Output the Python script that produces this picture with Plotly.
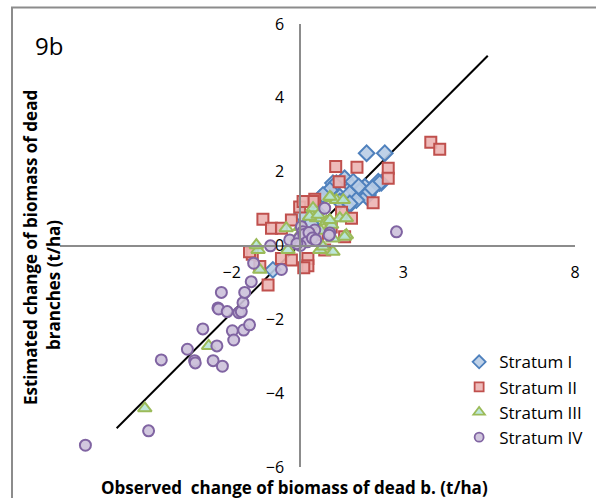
import plotly.graph_objects as go

# ---------------- data ----------------
s1_x = [1.93, 2.46, 2.36, 0.95, 1.39, 1.88, 2.27, 0.76, 1.15, 1.59, 1.97, 0.57, 1.05, 1.29, 1.54, 2.31,
        1.73, 1.93, 0.86, 0.66, 1.44, 1.44, 1.15, 2.02, -0.80, 1.63, 1.44, 0.03, 0.50, 0.30, 1.70, 2.10]
s1_y = [2.50, 2.50, 1.70, 1.69, 1.69, 1.59, 1.73, 1.41, 1.32, 1.46, 1.37, 1.28, 1.69, 1.82, 1.73, 1.69,
        1.46, 1.32, 1.50, 1.37, 1.41, 1.10, 1.19, 1.46, -0.66, 1.23, 1.14, 0.83, 0.90, 0.60, 1.60, 1.55]

s2_x = [3.80, 4.06, 2.56, 2.56, 2.12, 1.03, 1.65, 1.13, 0.42, -0.02, -1.09, -0.84, -0.55, -0.26, -1.40,
        0.22, 0.22, 1.49, 0.37, 0.08, -1.48, -1.18, -0.55, -0.26, -0.94, 0.71, 1.29, 0.10, 0.50, 0.90, 1.20]
s2_y = [2.80, 2.61, 2.09, 1.82, 1.16, 2.14, 2.12, 1.73, 1.25, 1.04, 0.71, 0.47, 0.47, 0.69, -0.24,
        -0.35, -0.55, 0.74, 1.19, 1.19, -0.17, -0.57, -0.35, -0.39, -1.07, -0.12, 0.24, -0.60, 0.30, 0.50, 0.90]

s3_x = [-4.53, -2.67, -1.23, -1.18, -0.36, 0.57, 0.95, -1.28, -0.41, 0.18, 0.32, 0.37, 0.47, 0.76, 0.91,
        1.15, 1.34, 1.34, 0.95, 0.91, 1.05, 0.86, 1.25, 0.27, 0.52, 1.29, 0.66, 0.86, 0.00, 0.60, -0.10]
s3_y = [-4.41, -2.72, -0.12, -0.66, -0.12, -0.12, -0.17, 0.01, 0.47, 0.37, 0.83, 1.01, 0.74, 0.65, 0.56,
        0.74, 0.74, 0.28, 0.19, 1.28, 1.23, 1.32, 1.23, 0.78, 0.83, 0.24, -0.03, 0.69, 0.50, 0.40, 0.20]

s4_x = [-6.26, -4.42, -4.05, -3.29, -3.08, -3.06, -2.84, -2.43, -2.54, -2.27, -2.40, -2.38, -2.13, -2.30,
        -1.98, -1.94, -1.65, -1.48, -1.79, -1.72, -1.67, -1.62, -1.43, -1.36, -0.55, -0.87, -0.31, 0.03,
        0.07, 0.71, 0.86, 0.42, -0.02, 0.13, 0.32, 0.84, 2.80, 0.10, 0.20, 0.25, 0.00, 0.35, -0.10, 0.45]
s4_y = [-5.41, -5.02, -3.10, -2.81, -3.12, -3.18, -2.26, -2.72, -3.12, -3.27, -1.69, -1.72, -1.79, -1.27,
        -2.31, -2.56, -2.29, -2.15, -1.82, -1.79, -1.55, -1.27, -0.98, -0.48, -0.65, -0.01, 0.15, 0.51,
        0.37, 1.01, 0.34, 0.42, 0.20, 0.28, 0.24, 0.28, 0.37, 0.30, 0.10, 0.35, 0.00, 0.20, 0.05, 0.15]

fit_x = [-5.35, 5.46]
fit_y = [-4.95, 5.14]

x_ticks = [-2, 3, 8]
y_ticks = [-6, -4, -2, 0, 2, 4, 6]

series = [
    ("Stratum I", s1_x, s1_y, "diamond", 12, "rgba(185,205,229,0.9)", "#4F81BD"),
    ("Stratum II", s2_x, s2_y, "square", 11, "rgba(236,180,179,0.9)", "#C0504D"),
    ("Stratum III", s3_x, s3_y, "triangle-up", 12, "rgba(183,228,214,0.9)", "#9BBB59"),
    ("Stratum IV", s4_x, s4_y, "circle", 11, "rgba(204,193,218,0.9)", "#8064A2"),
]

FONT = "Open Sans"
fig = go.Figure()
fig.add_trace(go.Scatter(x=fit_x, y=fit_y, mode="lines", line=dict(color="black", width=2),
                         showlegend=False, hoverinfo="skip"))
for i, (name, xs, ys, sym, sz, fill, edge) in enumerate(series):
    fig.add_trace(go.Scatter(x=xs, y=ys, mode="markers", name=name, legendgroup=name, showlegend=False,
                             marker=dict(symbol=sym, size=sz, color=fill,
                                         line=dict(color=edge, width=2))))
# legend entries with smaller symbols, as in the reference
for i, (name, xs, ys, sym, sz, fill, edge) in enumerate(series):
    fig.add_trace(go.Scatter(x=[None], y=[None], mode="markers", name=name, legendgroup=name,
                             marker=dict(symbol=sym, size=sz - 2, color=fill,
                                         line=dict(color=edge, width=1.8))))

axis_common = dict(showgrid=False, zeroline=False, showline=True, linecolor="#8c8c8c", linewidth=2,
                   ticks="", tickfont=dict(family=FONT, size=16, color="black"), anchor="free")

fig.update_layout(
    width=596, height=498, autosize=False,
    margin=dict(l=60, r=21, t=24, b=31, pad=0, autoexpand=False),
    paper_bgcolor="white", plot_bgcolor="white",
    font=dict(family=FONT, color="black"),
    xaxis=dict(range=[-7, 8], tickvals=x_ticks, position=0.5, ticklabelstandoff=12, **axis_common),
    yaxis=dict(range=[-6, 6], tickvals=y_ticks, position=7/15, ticklabelstandoff=12, **axis_common),
    legend=dict(x=0.775, y=0.277, xanchor="left", yanchor="top", bgcolor="rgba(0,0,0,0)",
                font=dict(family=FONT, size=17, color="black"), tracegroupgap=0, itemwidth=30),
    shapes=[dict(type="rect", xref="paper", yref="paper", x0=-0.0932, x1=1.2, y0=-0.2, y1=1.0372,
                 line=dict(color="#8c8c8c", width=2), layer="below")],
    annotations=[
        dict(text="9b", xref="paper", yref="paper", x=-0.0524, y=0.952, xanchor="left", yanchor="middle",
             showarrow=False, font=dict(family=FONT, size=24, color="black")),
        dict(text="Estimated change of biomass of dead", xref="paper", yref="paper", x=-0.0583, y=0.4966,
             textangle=-90, showarrow=False, xanchor="center", yanchor="middle",
             font=dict(family=FONT, size=17, color="black", weight="bold")),
        dict(text="branches (t/ha)", xref="paper", yref="paper", x=-0.0136, y=0.4108,
             textangle=-90, showarrow=False, xanchor="center", yanchor="middle",
             font=dict(family=FONT, size=17, color="black", weight="bold")),
        dict(text="Observed  change of biomass of dead b. (t/ha)", xref="paper", yref="paper",
             x=0.4544, y=-0.046, showarrow=False, xanchor="center", yanchor="middle",
             font=dict(family=FONT, size=17, color="black", weight="bold")),
    ],
)

fig.write_html("out.html")
